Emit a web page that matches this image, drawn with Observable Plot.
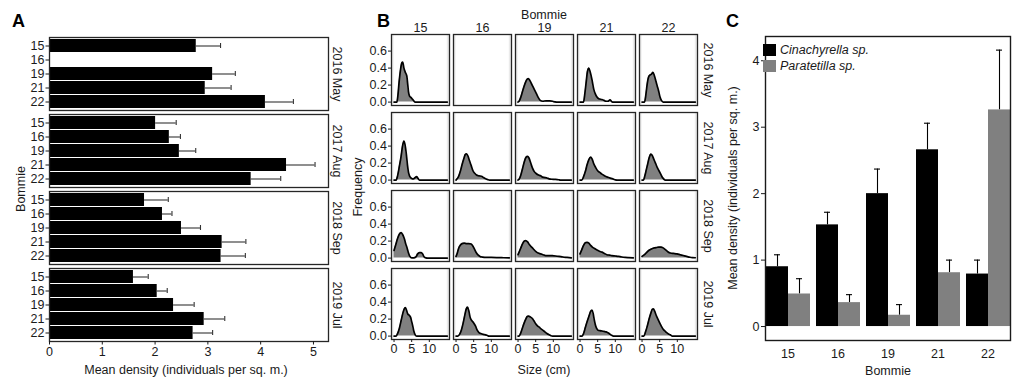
<!DOCTYPE html>
<html><head><meta charset="utf-8">
<script src="https://cdn.jsdelivr.net/npm/d3@7"></script>
<script src="https://cdn.jsdelivr.net/npm/@observablehq/plot@0.6"></script>
<style>
body{margin:0;background:#fff;}
#chart{position:relative;width:1023px;height:381px;overflow:hidden;font-family:'Liberation Sans',Arial,sans-serif;}
#chart svg{position:absolute;top:0;}
</style></head><body><div id="chart"></div>
<script>
// ---------- shared categories ----------
const dates = ["2016 May", "2017 Aug", "2018 Sep", "2019 Jul"];
const bommies = ["15", "16", "19", "21", "22"];

// ---------- Panel A: mean density (with upper error) by date x bommie ----------
const meanA_2016May  = [2.78, null, 3.09, 2.95, 4.09];
const upperA_2016May = [3.24, null, 3.52, 3.44, 4.62];
const meanA_2017Aug  = [2.01, 2.27, 2.46, 4.49, 3.82];
const upperA_2017Aug = [2.40, 2.48, 2.77, 5.03, 4.38];
const meanA_2018Sep  = [1.80, 2.14, 2.50, 3.27, 3.25];
const upperA_2018Sep = [2.25, 2.32, 2.86, 3.72, 3.71];
const meanA_2019Jul  = [1.59, 2.04, 2.35, 2.93, 2.72];
const upperA_2019Jul = [1.87, 2.23, 2.74, 3.32, 3.09];
const ticksA = [0, 1, 2, 3, 4, 5];

// ---------- Panel B: size-frequency density curves [size cm, frequency] ----------
const d_2016May_15 = [[0,0],[0.8,0],[1.1,0.08],[1.4,0.22],[1.8,0.37],[2.2,0.46],[2.45,0.47],[2.8,0.40],[3.2,0.35],[3.6,0.31],[3.9,0.2],[4.1,0.12],[4.4,0.07],[4.9,0.05],[5.3,0.03],[5.8,0.005],[6.2,0],[15.1,0]];
const d_2016May_19 = [[0,0],[0.3,0.01],[0.8,0.06],[1.3,0.13],[2.0,0.22],[2.6,0.27],[2.9,0.275],[3.4,0.25],[4.0,0.2],[4.6,0.15],[5.2,0.1],[5.8,0.05],[6.3,0.02],[7,0.01],[8,0.015],[9,0.015],[9.8,0.01],[10.5,0.002],[11,0],[15.1,0]];
const d_2016May_21 = [[0,0],[1.0,0],[1.3,0.08],[1.7,0.22],[2.1,0.36],[2.5,0.40],[2.9,0.35],[3.4,0.26],[3.9,0.15],[4.3,0.1],[4.8,0.06],[5.3,0.04],[6.2,0.03],[6.8,0.02],[7.3,0.01],[7.9,0.01],[8.5,0.025],[9,0.005],[9.5,0],[15.1,0]];
const d_2016May_22 = [[0,0],[0.7,0],[1.0,0.06],[1.3,0.16],[1.6,0.25],[1.9,0.30],[2.3,0.32],[2.7,0.33],[3.1,0.35],[3.5,0.31],[3.9,0.25],[4.3,0.19],[4.7,0.13],[5.1,0.06],[5.5,0.02],[6.0,0],[15.1,0]];
const d_2017Aug_15 = [[0,0],[0.6,0],[1.0,0.05],[1.5,0.16],[2.0,0.28],[2.4,0.4],[2.8,0.46],[3.1,0.42],[3.5,0.3],[3.8,0.18],[4.1,0.09],[4.5,0.04],[5.0,0.02],[5.5,0.015],[6.0,0.03],[6.4,0.04],[6.8,0.02],[7.2,0],[15.1,0]];
const d_2017Aug_16 = [[0,0],[0.2,0.01],[0.7,0.04],[1.2,0.1],[1.7,0.18],[2.2,0.25],[2.6,0.3],[3.0,0.31],[3.4,0.28],[3.8,0.23],[4.3,0.17],[4.8,0.11],[5.3,0.08],[5.8,0.06],[6.5,0.05],[7.2,0.045],[7.8,0.03],[8.4,0.015],[9,0.005],[9.5,0],[15.1,0]];
const d_2017Aug_19 = [[0,0],[0.3,0.01],[0.8,0.06],[1.3,0.14],[1.8,0.22],[2.3,0.27],[2.7,0.28],[3.1,0.26],[3.6,0.2],[4.1,0.14],[4.6,0.1],[5.2,0.075],[5.8,0.06],[6.4,0.05],[7,0.035],[7.6,0.03],[8.2,0.025],[8.8,0.015],[9.5,0.01],[10.5,0.008],[11.5,0.004],[12,0],[15.1,0]];
const d_2017Aug_21 = [[0,0],[0.5,0],[1.0,0.04],[1.5,0.1],[2.0,0.18],[2.5,0.24],[3.0,0.27],[3.4,0.25],[3.9,0.19],[4.4,0.15],[5.0,0.11],[5.6,0.09],[6.2,0.07],[6.8,0.055],[7.5,0.04],[8.1,0.03],[8.8,0.02],[9.5,0.01],[10,0.002],[10.5,0],[15.1,0]];
const d_2017Aug_22 = [[0,0],[0.4,0],[0.8,0.05],[1.2,0.12],[1.6,0.19],[2.0,0.26],[2.5,0.305],[2.9,0.29],[3.3,0.25],[3.8,0.2],[4.3,0.15],[4.8,0.11],[5.3,0.07],[5.8,0.03],[6.2,0.01],[6.6,0],[15.1,0]];
const d_2018Sep_15 = [[0,0.09],[0.5,0.16],[1.0,0.23],[1.5,0.28],[2.0,0.30],[2.4,0.28],[2.9,0.23],[3.3,0.17],[3.7,0.12],[4.1,0.06],[4.5,0.02],[5.0,0.003],[5.6,0.003],[6.2,0.015],[6.7,0.05],[7.2,0.065],[7.7,0.065],[8.1,0.05],[8.5,0.015],[9.0,0.002],[9.5,0],[15.1,0]];
const d_2018Sep_16 = [[0,0.02],[0.3,0.05],[0.7,0.11],[1.2,0.15],[1.7,0.17],[2.3,0.175],[3.0,0.17],[3.6,0.17],[4.3,0.165],[4.8,0.14],[5.3,0.1],[5.8,0.06],[6.3,0.035],[6.8,0.02],[7.5,0.012],[8.5,0.008],[10,0.008],[12,0.006],[13.5,0.004],[15.1,0.002]];
const d_2018Sep_19 = [[0,0.04],[0.4,0.08],[0.8,0.12],[1.3,0.17],[1.8,0.2],[2.2,0.205],[2.7,0.19],[3.2,0.16],[3.7,0.135],[4.3,0.11],[5.0,0.08],[5.7,0.06],[6.4,0.05],[7.1,0.04],[7.8,0.03],[8.7,0.03],[9.7,0.028],[10.6,0.025],[11.6,0.02],[12.7,0.013],[13.9,0.008],[15.1,0.003]];
const d_2018Sep_21 = [[0,0.05],[0.5,0.1],[1.0,0.15],[1.5,0.18],[2.0,0.185],[2.5,0.175],[3.0,0.15],[3.5,0.13],[4.0,0.115],[4.8,0.095],[5.5,0.08],[6.2,0.07],[6.9,0.055],[7.6,0.04],[8.3,0.035],[9.0,0.03],[10,0.025],[10.9,0.02],[11.8,0.013],[12.8,0.008],[13.8,0.005],[15.1,0.002]];
const d_2018Sep_22 = [[0,0.02],[0.7,0.04],[1.4,0.07],[2.1,0.095],[2.8,0.11],[3.5,0.12],[4.2,0.125],[4.8,0.13],[5.4,0.13],[6.0,0.12],[6.6,0.1],[7.3,0.075],[8.0,0.06],[8.9,0.055],[9.9,0.05],[10.8,0.04],[11.7,0.03],[12.6,0.02],[13.6,0.01],[14.3,0.006],[15.1,0.004]];
const d_2019Jul_15 = [[0,0],[0.6,0],[1.0,0.03],[1.5,0.09],[2.0,0.18],[2.5,0.27],[2.9,0.32],[3.2,0.335],[3.5,0.31],[3.9,0.26],[4.3,0.245],[4.7,0.22],[5.0,0.17],[5.3,0.12],[5.6,0.06],[6.0,0.015],[6.4,0],[15.1,0]];
const d_2019Jul_16 = [[0,0],[0.5,0],[1.0,0.02],[1.5,0.07],[2.0,0.15],[2.5,0.25],[2.9,0.32],[3.25,0.34],[3.6,0.3],[4.0,0.22],[4.5,0.18],[5.0,0.155],[5.5,0.12],[6.0,0.07],[6.5,0.04],[7.0,0.03],[7.7,0.02],[8.4,0.015],[9.0,0.004],[9.3,0],[15.1,0]];
const d_2019Jul_19 = [[0,0],[0.3,0],[0.7,0.03],[1.2,0.09],[1.7,0.15],[2.2,0.2],[2.6,0.23],[3.0,0.235],[3.5,0.225],[4.0,0.21],[4.5,0.18],[5.0,0.145],[5.5,0.12],[6.0,0.105],[6.5,0.085],[7.0,0.07],[7.6,0.05],[8.2,0.03],[8.8,0.015],[9.3,0.005],[9.8,0],[15.1,0]];
const d_2019Jul_21 = [[0,0],[0.6,0],[1.0,0.03],[1.5,0.1],[2.0,0.17],[2.5,0.23],[3.0,0.29],[3.4,0.305],[3.7,0.27],[4.0,0.2],[4.3,0.14],[4.7,0.09],[5.1,0.07],[5.6,0.065],[6.2,0.06],[6.8,0.055],[7.4,0.05],[7.9,0.04],[8.4,0.025],[8.9,0.01],[9.5,0],[15.1,0]];
const d_2019Jul_22 = [[0,0],[0.5,0],[1.0,0.05],[1.5,0.12],[2.0,0.2],[2.5,0.27],[2.9,0.315],[3.2,0.32],[3.6,0.29],[4.0,0.245],[4.5,0.2],[5.0,0.155],[5.5,0.115],[6.0,0.08],[6.5,0.06],[7.0,0.04],[7.5,0.025],[8.0,0.015],[8.6,0],[15.1,0]];
const curveList = [
  ["2016 May","15",d_2016May_15],["2016 May","19",d_2016May_19],["2016 May","21",d_2016May_21],["2016 May","22",d_2016May_22],
  ["2017 Aug","15",d_2017Aug_15],["2017 Aug","16",d_2017Aug_16],["2017 Aug","19",d_2017Aug_19],["2017 Aug","21",d_2017Aug_21],["2017 Aug","22",d_2017Aug_22],
  ["2018 Sep","15",d_2018Sep_15],["2018 Sep","16",d_2018Sep_16],["2018 Sep","19",d_2018Sep_19],["2018 Sep","21",d_2018Sep_21],["2018 Sep","22",d_2018Sep_22],
  ["2019 Jul","15",d_2019Jul_15],["2019 Jul","16",d_2019Jul_16],["2019 Jul","19",d_2019Jul_19],["2019 Jul","21",d_2019Jul_21],["2019 Jul","22",d_2019Jul_22]
];
const sizeLimits = [0, 15.1];
const sizeTicks = [0, 5, 10];
const freqTicks = [0, 0.2, 0.4, 0.6];

// ---------- Panel C: species mean density by bommie ----------
const species = ["Cinachyrella sp.", "Paratetilla sp."];
const speciesColors = ["#000000", "#808080"];
const meanCinachyrella  = [0.90, 1.53, 2.00, 2.66, 0.79];
const upperCinachyrella = [1.08, 1.72, 2.37, 3.06, 1.00];
const meanParatetilla   = [0.49, 0.36, 0.17, 0.81, 3.26];
const upperParatetilla  = [0.72, 0.48, 0.33, 1.00, 4.16];
const ticksC = [0, 1, 2, 3, 4];

// ---------- build tables ----------
const meansA = [meanA_2016May, meanA_2017Aug, meanA_2018Sep, meanA_2019Jul];
const uppersA = [upperA_2016May, upperA_2017Aug, upperA_2018Sep, upperA_2019Jul];
const rowsA = [];
dates.forEach((d, i) => bommies.forEach((b, j) => {
  if (meansA[i][j] != null) rowsA.push({date: d, bommie: b, mean: meansA[i][j], upper: uppersA[i][j]});
}));
const pointsB = curveList.flatMap(([date, bommie, pts]) => pts.map(([size, freq]) => ({date, bommie, size, freq, key: date + "|" + bommie})));
const panelsB = dates.flatMap(d => bommies.map(b => ({date: d, bommie: b})));
const rowsC = [];
[[meanCinachyrella, upperCinachyrella], [meanParatetilla, upperParatetilla]].forEach(([m, u], k) =>
  bommies.forEach((b, j) => rowsC.push({species: species[k], bommie: b, mean: m[j], upper: u[j]})));

const FONT = "'Liberation Sans', Arial, sans-serif";
const baseStyle = {fontFamily: FONT, fontSize: "12.5px", color: "#1a1a1a", background: "transparent", overflow: "visible"};
const chart = document.getElementById("chart");
const intFmt = d3.format("d");

// ---------- Panel A ----------
const xDomainA = [0, 5.285];
const plotA = Plot.plot({
  width: 345, height: 381,
  marginLeft: 49, marginRight: 17, marginTop: 36, marginBottom: 40,
  style: baseStyle,
  x: {domain: xDomainA},
  y: {domain: bommies, padding: 0.1},
  fy: {domain: dates, paddingInner: 0.052, paddingOuter: 0, axis: null},
  marks: [
    Plot.barX(rowsA, {x: "mean", y: "bommie", fy: "date", fill: "black"}),
    Plot.ruleY(rowsA, {x1: "mean", x2: "upper", y: "bommie", fy: "date", stroke: "#333", strokeWidth: 1.1}),
    Plot.tickX(rowsA, {x: "upper", y: "bommie", fy: "date", stroke: "#333", strokeWidth: 1.1, insetTop: 4, insetBottom: 4}),
    Plot.frame({stroke: "#262626", strokeWidth: 1.3}),
    Plot.axisY({tickSize: 3.5, tickPadding: 1.5, label: null}),
    Plot.axisX({ticks: ticksA, tickFormat: intFmt, tickSize: 3.5, tickPadding: 2, label: null}),
    Plot.text(dates, {fy: d => d, text: d => d, frameAnchor: "right", textAnchor: "middle", rotate: 90, dx: 8, fill: "#1a1a1a"})
  ]
});
plotA.style.left = "0px";
chart.appendChild(plotA);

// ---------- Panel B ----------
const xDomainB = [-0.72, 15.72];
const plotB = Plot.plot({
  width: 370, height: 381,
  marginLeft: 47, marginRight: 17, marginTop: 34, marginBottom: 42,
  style: baseStyle,
  x: {domain: xDomainB},
  y: {domain: [-0.04, 0.795]},
  fx: {domain: bommies, paddingInner: 0.072, paddingOuter: 0},
  fy: {domain: dates, paddingInner: 0.095, paddingOuter: 0, axis: null},
  marks: [
    Plot.rect(panelsB, {fx: "bommie", fy: "date", x1: () => xDomainB[0], x2: () => sizeLimits[0], fill: "#ebebeb"}),
    Plot.rect(panelsB, {fx: "bommie", fy: "date", x1: () => sizeLimits[1], x2: () => xDomainB[1], fill: "#ebebeb"}),
    Plot.areaY(pointsB, {x: "size", y: "freq", fx: "bommie", fy: "date", z: "key", fill: "#808080", curve: "monotone-x"}),
    Plot.lineY(pointsB, {x: "size", y: "freq", fx: "bommie", fy: "date", z: "key", stroke: "black", strokeWidth: 1.7, curve: "monotone-x"}),
    Plot.frame({stroke: "#262626", strokeWidth: 1.3}),
    Plot.axisY({ticks: freqTicks, tickFormat: d3.format(".1f"), tickSize: 3, tickPadding: 1.5, label: null}),
    Plot.axisX({ticks: sizeTicks, tickFormat: intFmt, tickSize: 3, tickPadding: 2, label: null}),
    Plot.axisFx({anchor: "top", tickSize: 0, tickPadding: 3, label: null}),
    Plot.text(dates, {fx: () => bommies[bommies.length - 1], fy: d => d, text: d => d, frameAnchor: "right", textAnchor: "middle", rotate: 90, dx: 10, fill: "#1a1a1a"})
  ]
});
plotB.style.left = "344px";
chart.appendChild(plotB);

// ---------- Panel C ----------
const plotC = Plot.plot({
  width: 308, height: 381,
  marginLeft: 40, marginRight: 3, marginTop: 36, marginBottom: 41,
  style: baseStyle,
  x: {domain: species, padding: 0, axis: null},
  y: {domain: [-0.21, 4.365]},
  fx: {domain: bommies, paddingInner: 0.1, paddingOuter: 0.15},
  color: {domain: species, range: speciesColors},
  marks: [
    Plot.ruleX(rowsC, {fx: "bommie", x: "species", y1: "mean", y2: "upper", stroke: "black", strokeWidth: 1.1}),
    Plot.tickY(rowsC, {fx: "bommie", x: "species", y: "upper", stroke: "black", strokeWidth: 1.1, insetLeft: 8, insetRight: 8}),
    Plot.barY(rowsC, {fx: "bommie", x: "species", y: "mean", fill: "species"}),
    Plot.frame({facet: "super", stroke: "#1a1a1a", strokeWidth: 1.4}),
    Plot.axisY({ticks: ticksC, tickFormat: intFmt, tickSize: 4, tickPadding: 2, label: null}),
    Plot.axisFx({anchor: "bottom", tickSize: 0, tickPadding: 9, label: null})
  ]
});
plotC.style.left = "715px";
chart.appendChild(plotC);

// ---------- titles, panel letters, legend ----------
const ns = "http://www.w3.org/2000/svg";
const ov = document.createElementNS(ns, "svg");
ov.setAttribute("width", 1023); ov.setAttribute("height", 381);
ov.style.left = "0px"; ov.style.pointerEvents = "none";
ov.setAttribute("font-family", FONT);
function txt(s, x, y, opts = {}) {
  const t = document.createElementNS(ns, "text");
  t.textContent = s;
  t.setAttribute("x", x); t.setAttribute("y", y);
  t.setAttribute("font-size", opts.size || 12.5);
  t.setAttribute("fill", opts.fill || "#1a1a1a");
  if (opts.anchor) t.setAttribute("text-anchor", opts.anchor);
  if (opts.weight) t.setAttribute("font-weight", opts.weight);
  if (opts.style) t.setAttribute("font-style", opts.style);
  if (opts.rotate) t.setAttribute("transform", `rotate(${opts.rotate},${x},${y})`);
  ov.appendChild(t);
}
txt("A", 12, 26.5, {size: 18, weight: "bold", fill: "#000"});
txt("B", 377, 26.5, {size: 18, weight: "bold", fill: "#000"});
txt("C", 726, 26.5, {size: 18, weight: "bold", fill: "#000"});
txt("Mean density (individuals per sq. m.)", 186, 374, {anchor: "middle"});
txt("Bommie", 25, 189, {anchor: "middle", rotate: -90});
txt("Bommie", 544, 18.5, {anchor: "middle"});
txt("Frequency", 362, 187, {anchor: "middle", rotate: -90});
txt("Size (cm)", 544, 374, {anchor: "middle"});
txt("Mean density (individuals per sq. m.)", 737, 188, {anchor: "middle", rotate: -90});
txt("Bommie", 888, 375, {anchor: "middle"});
species.forEach((s, i) => {
  const r = document.createElementNS(ns, "rect");
  r.setAttribute("x", 763); r.setAttribute("y", 44 + i * 16);
  r.setAttribute("width", 13); r.setAttribute("height", 12);
  r.setAttribute("fill", speciesColors[i]);
  ov.appendChild(r);
  txt(s, 780, 54 + i * 16, {style: "italic"});
});
chart.appendChild(ov);
</script></body></html>
